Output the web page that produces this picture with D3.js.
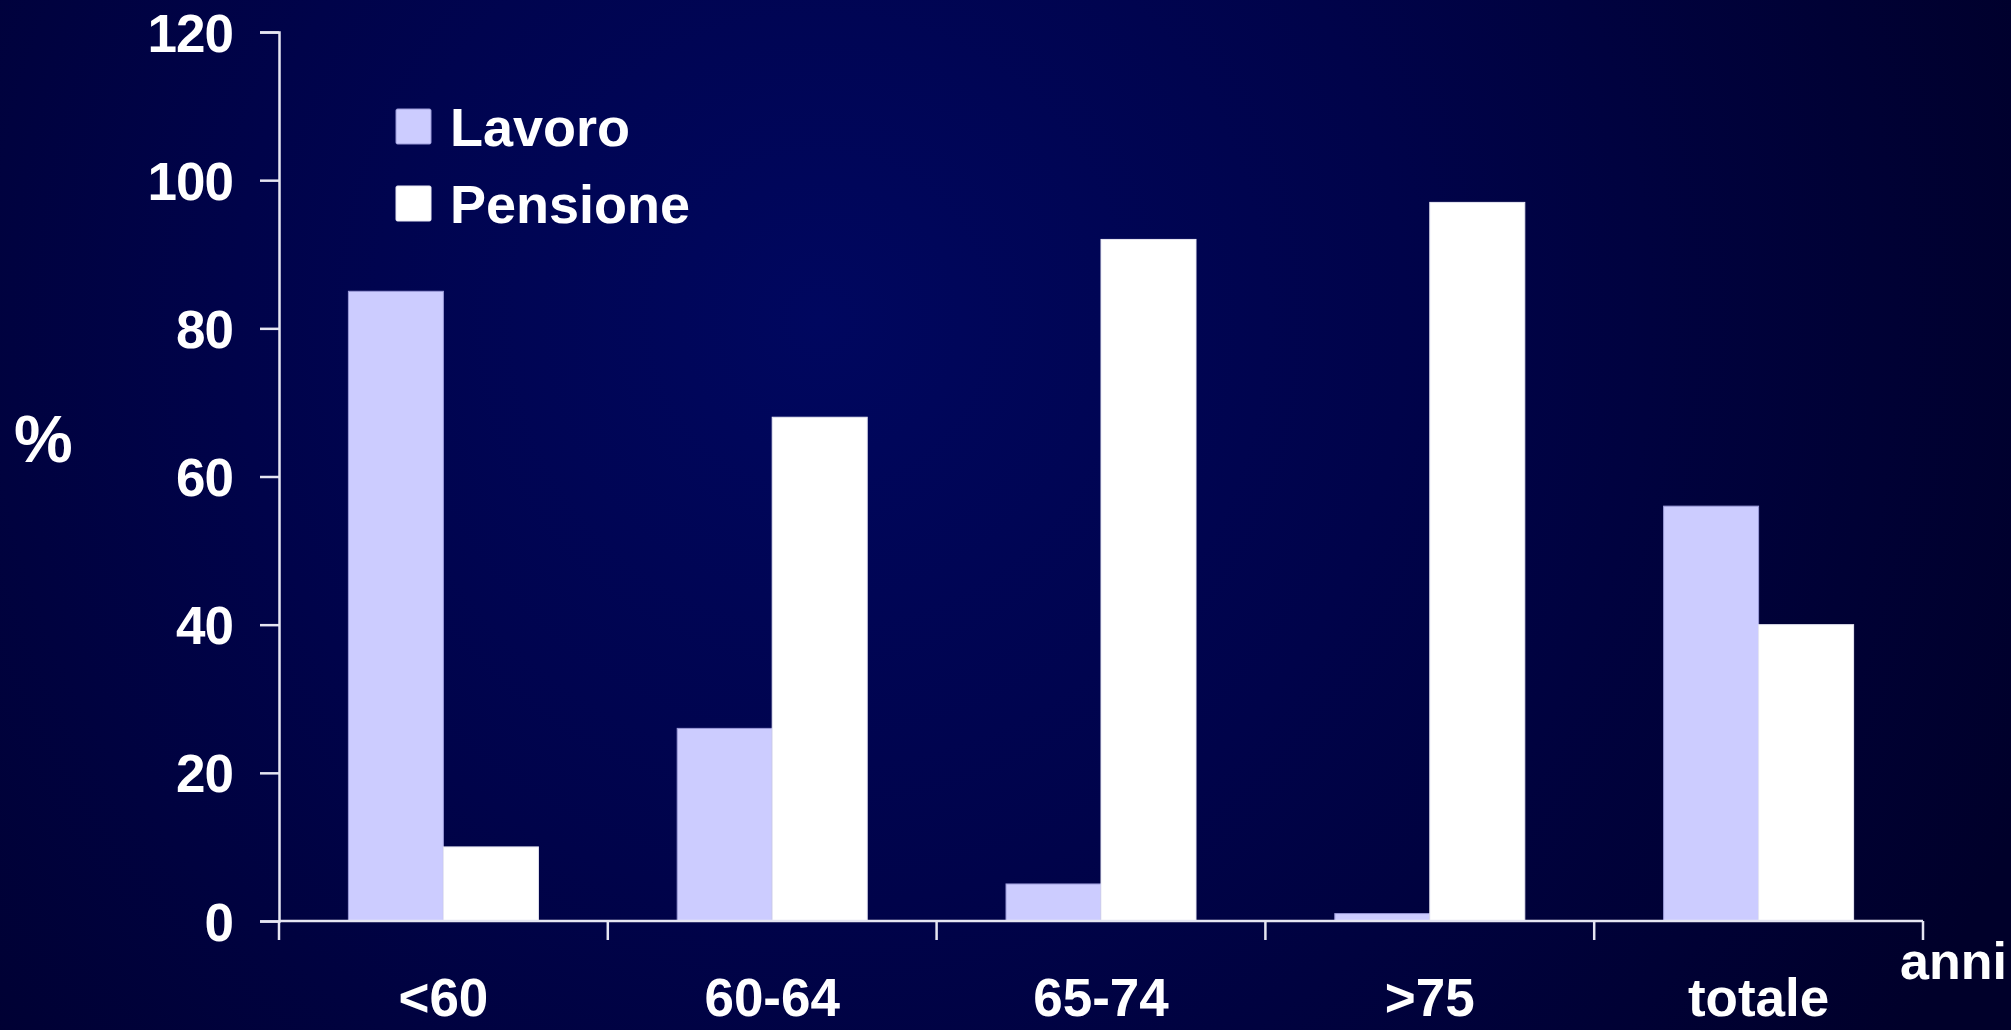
<!DOCTYPE html>
<html>
<head>
<meta charset="utf-8">
<script src="https://cdn.jsdelivr.net/npm/d3@7"></script>
<style>
  html, body { margin: 0; padding: 0; background: #000030; }
  svg { display: block; }
  text { font-family: "Liberation Sans", Arial, sans-serif; font-weight: bold; fill: #ffffff; }
</style>
</head>
<body>
<svg id="chart" width="2011" height="1030"></svg>
<script>
// Age groups and shares (%) of people still working vs. retired
const categories = ["<60", "60-64", "65-74", ">75", "totale"];
const lavoro   = [85, 26, 5, 1, 56];
const pensione = [10, 68, 92, 97, 40];
const seriesNames = ["Lavoro", "Pensione"];
const yTicks = [0, 20, 40, 60, 80, 100, 120];

const W = 2011, H = 1030;
const margin = { left: 279, right: 88, top: 32, bottom: 109 };
const svg = d3.select("#chart");

// background glow
const defs = svg.append("defs");
const grad = defs.append("radialGradient")
  .attr("id", "bg").attr("gradientUnits", "userSpaceOnUse")
  .attr("cx", 820).attr("cy", 320).attr("r", 1300);
grad.append("stop").attr("offset", "0").attr("stop-color", "#00075f");
grad.append("stop").attr("offset", "0.45").attr("stop-color", "#00034a");
grad.append("stop").attr("offset", "1").attr("stop-color", "#00002a");
svg.append("rect").attr("width", W).attr("height", H).attr("fill", "url(#bg)");

const x = d3.scaleBand().domain(categories)
  .range([margin.left, W - margin.right]).paddingInner(0).paddingOuter(0);
const groupWidth = 190;
const xs = d3.scaleBand().domain(seriesNames)
  .range([(x.bandwidth() - groupWidth) / 2, (x.bandwidth() + groupWidth) / 2]).padding(0);
const y = d3.scaleLinear().domain([0, 120]).range([H - margin.bottom, margin.top]);

const colors = { Lavoro: "#ccccff", Pensione: "#ffffff" };
const strokes = { Lavoro: "#9a9ad8", Pensione: "#e8e8f4" };

const rows = categories.map((c, i) => ({ cat: c, Lavoro: lavoro[i], Pensione: pensione[i] }));

// bars
const g = svg.append("g");
rows.forEach(r => {
  seriesNames.forEach(s => {
    g.append("rect")
      .attr("x", x(r.cat) + xs(s))
      .attr("y", y(r[s]))
      .attr("width", xs.bandwidth())
      .attr("height", y(0) - y(r[s]))
      .attr("fill", colors[s])
      .attr("stroke", strokes[s])
      .attr("stroke-width", 1);
  });
});

// y axis
const yAxis = svg.append("g")
  .attr("transform", `translate(${margin.left},0)`)
  .call(d3.axisLeft(y).tickValues(yTicks).tickSize(19).tickPadding(27).tickFormat(d3.format("d")));
yAxis.select(".domain").attr("stroke", "#e6e6f2").attr("stroke-width", 2.5);
yAxis.selectAll(".tick line").attr("stroke", "#e6e6f2").attr("stroke-width", 2.5);
yAxis.selectAll(".tick text")
  .style("font-size", "53px").style("font-weight", "bold").style("letter-spacing", "-1px")
  .attr("fill", "#fff").attr("font-family", null).attr("dy", "0.36em");

// x axis: ticks on category boundaries
const boundaries = categories.map(c => x(c)).concat([x(categories[categories.length - 1]) + x.bandwidth()]);
const xAxisG = svg.append("g");
xAxisG.append("line")
  .attr("x1", margin.left).attr("x2", W - margin.right)
  .attr("y1", y(0)).attr("y2", y(0))
  .attr("stroke", "#e6e6f2").attr("stroke-width", 2.5);
xAxisG.selectAll(".bt").data(boundaries).join("line")
  .attr("x1", d => d).attr("x2", d => d)
  .attr("y1", y(0)).attr("y2", y(0) + 19)
  .attr("stroke", "#e6e6f2").attr("stroke-width", 2.5);
xAxisG.selectAll(".cl").data(categories).join("text")
  .attr("x", d => x(d) + x.bandwidth() / 2)
  .attr("y", 1016)
  .attr("text-anchor", "middle")
  .style("font-size", "53px")
  .text(d => d);

// axis titles
svg.append("text").attr("x", 1900).attr("y", 979).style("font-size", "52px").text("anni");
svg.append("text").attr("x", 14).attr("y", 462).style("font-size", "66px").text("%");

// legend
const legend = svg.append("g");
seriesNames.forEach((s, i) => {
  const top = 109 + i * 77;
  legend.append("rect")
    .attr("x", 396).attr("y", top).attr("width", 35).attr("height", 35)
    .attr("rx", 1.5)
    .attr("fill", colors[s]).attr("stroke", strokes[s]).attr("stroke-width", 1);
  legend.append("text")
    .attr("x", 450).attr("y", top + 37)
    .style("font-size", "54px")
    .text(s);
});
</script>
</body>
</html>
